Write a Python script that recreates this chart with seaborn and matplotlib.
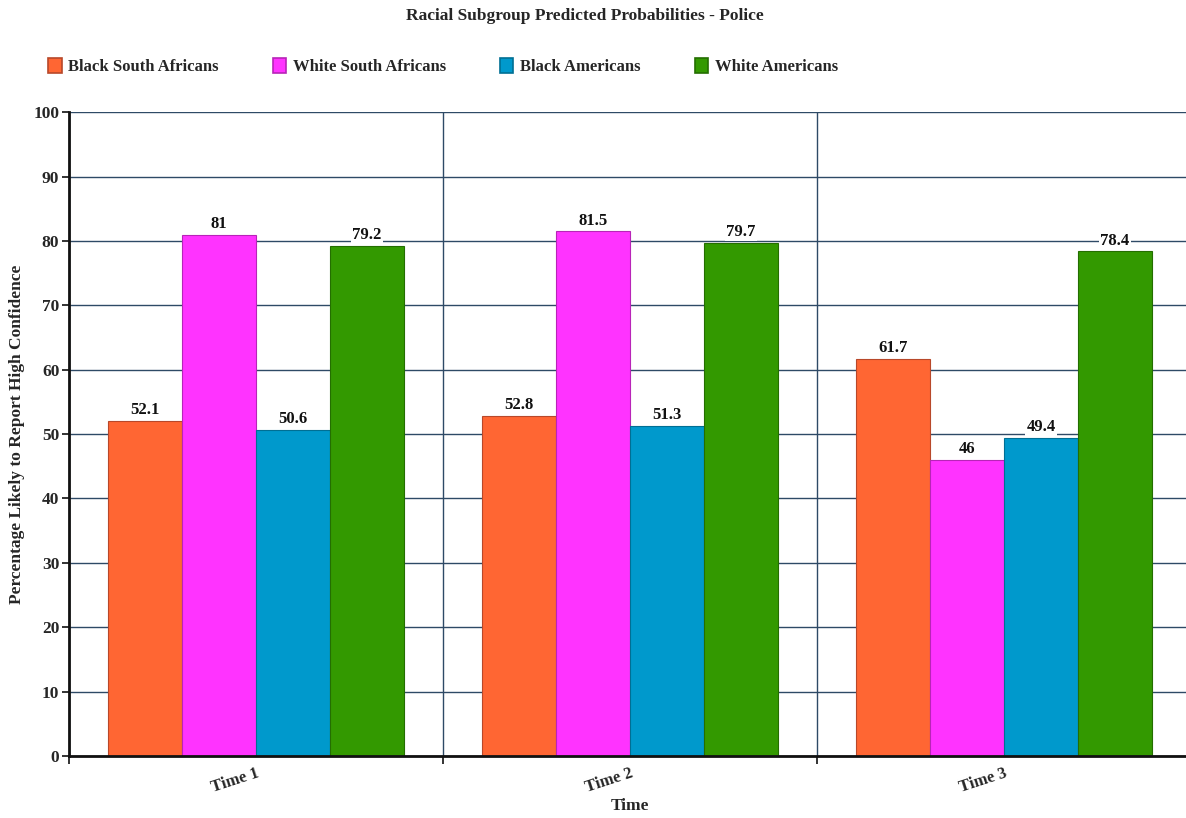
import matplotlib
matplotlib.use("Agg")
import matplotlib.pyplot as plt
import seaborn as sns
import pandas as pd
from matplotlib.ticker import FixedLocator
from matplotlib.patches import Patch

times = ["Time 1", "Time 2", "Time 3"]
groups = ["Black South Africans", "White South Africans", "Black Americans", "White Americans"]
black_sa = [52.1, 52.8, 61.7]
white_sa = [81, 81.5, 46]
black_us = [50.6, 51.3, 49.4]
white_us = [79.2, 79.7, 78.4]
colors = ["#FF6633", "#FF33FF", "#0099CC", "#339900"]
edge_colors = ["#B8482A", "#B824B8", "#006F94", "#246E00"]

series = [black_sa, white_sa, black_us, white_us]
df = pd.DataFrame({
    "Time": [t for _ in groups for t in times],
    "Group": [g for g in groups for _ in times],
    "Value": [v for s in series for v in s],
})

sns.set_theme(style="white")
plt.rcParams["font.family"] = ["Liberation Serif", "DejaVu Serif"]
plt.rcParams["font.weight"] = "bold"

fig = plt.figure(figsize=(11.86, 8.18), dpi=100)
ax = fig.add_axes([0.0582, 0.0758, 0.946, 0.787])

sns.barplot(data=df, x="Time", y="Value", hue="Group", order=times, hue_order=groups,
            palette=colors, width=0.79, ax=ax, legend=False, saturation=1)

grid_col = "#2E4A66"
ax.set_ylim(0, 100)
ax.set_xlim(-0.5, 2.5)
ax.set_yticks(range(0, 101, 10))
ax.yaxis.grid(True, color=grid_col, linewidth=1.0)
ax.xaxis.set_minor_locator(FixedLocator([-0.5, 0.5, 1.5]))
ax.xaxis.grid(True, which="minor", color=grid_col, linewidth=1.0)
ax.xaxis.grid(False, which="major")
ax.set_axisbelow(True)

for i, cont in enumerate(ax.containers):
    for bar in cont:
        bar.set_edgecolor(edge_colors[i])
        bar.set_linewidth(0.8)
    ax.bar_label(cont, labels=[f"{v:g}" for v in cont.datavalues], padding=2,
                 fontsize=12, fontweight="bold", color="#111111",
                 bbox=dict(facecolor="white", edgecolor="none", pad=1.0))

for s in ["top", "right"]:
    ax.spines[s].set_visible(False)
for s in ["left", "bottom"]:
    ax.spines[s].set_color("#111111")
    ax.spines[s].set_linewidth(2.0)

ax.tick_params(axis="y", which="major", left=True, length=5, width=1.2, color="#111111",
               labelsize=12.5, pad=2)
ax.tick_params(axis="x", which="major", bottom=False, labelsize=12, pad=1)
ax.tick_params(axis="x", which="minor", bottom=True, length=6, width=1.2, color="#111111")
for lab in ax.get_xticklabels():
    lab.set_rotation(18)
    lab.set_ha("right")
    lab.set_rotation_mode("anchor")
    lab.set_fontweight("bold")
for lab in ax.get_yticklabels():
    lab.set_fontweight("bold")

ax.set_xlabel("Time", fontsize=12.5, fontweight="bold")
ax.xaxis.set_label_coords(0.5, -0.066)
ax.set_ylabel("Percentage Likely to Report High Confidence", fontsize=12.5, fontweight="bold", labelpad=6)

fig.text(0.493, 0.981, "Racial Subgroup Predicted Probabilities - Police", ha="center", va="center",
         fontsize=12.5, fontweight="bold")

handles = [Patch(facecolor=c, edgecolor=e, linewidth=1.2) for c, e in zip(colors, edge_colors)]
fig.legend(handles, groups, loc="center left", bbox_to_anchor=(0.028, 0.919), ncol=4, frameon=False,
           fontsize=12, handlelength=0.8, handleheight=1.0, handletextpad=0.4, columnspacing=3.25)

fig.savefig("out.png", dpi=100)
